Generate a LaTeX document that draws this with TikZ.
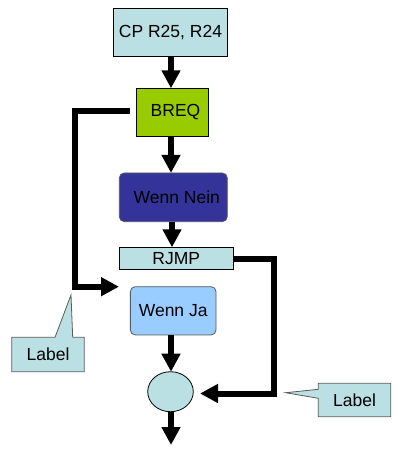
\documentclass[tikz,border=0pt]{standalone}
\usepackage{fontspec}
\setmainfont{Liberation Sans}
\usetikzlibrary{arrows.meta,shapes.geometric}
\definecolor{lcyan}{RGB}{187,224,227}
\definecolor{lgreen}{RGB}{153,204,0}
\definecolor{dblue}{RGB}{51,51,153}
\definecolor{lblue}{RGB}{153,204,255}
\definecolor{edgegray}{RGB}{90,90,90}
\tikzset{
  box/.style={draw=black, line width=0.8pt, inner sep=0pt, font=\fontsize{17.5}{20}\selectfont},
  rbox/.style={box, draw=edgegray, rounded corners=5pt},
  flow/.style={line width=6pt, line cap=butt, line join=miter, -{Triangle[width=18pt,length=18pt]}},
  callout/.style={fill=lcyan, draw=edgegray, line width=0.8pt},
  ctext/.style={font=\fontsize{17.5}{20}\selectfont, inner sep=0pt}
}
\begin{document}
\begin{tikzpicture}[x=1pt,y=-1pt]
\useasboundingbox (0,0) rectangle (409,450);
% nodes
\node[box, fill=lcyan, minimum width=114pt, minimum height=48.4pt] (cp) at (170.5,32.5) {CP R25, R24};
\node[box, fill=lgreen, minimum width=72pt, minimum height=48.4pt] (breq) at (172.5,112.5) {\hspace{6pt}BREQ};
\node[rbox, fill=dblue, minimum width=108pt, minimum height=48.7pt] (nein) at (173.3,197.3) {\hspace{7pt}Wenn Nein};
\node[box, fill=lcyan, minimum width=114pt, minimum height=22pt] (rjmp) at (176.3,258.3) {RJMP\hspace{16pt}};
\node[rbox, fill=lblue, minimum width=85.7pt, minimum height=48.3pt] (ja) at (173.2,310.8) {Wenn Ja};
\node[ellipse, draw=black, line width=0.8pt, fill=lcyan, minimum width=45.6pt, minimum height=40pt, inner sep=0pt] (merge) at (170.5,391.7) {};
\coordinate (outend) at (171,445);
\coordinate (jaentry) at (119,286.7);
\coordinate (leftcorner1) at (74.5,111);
\coordinate (leftcorner2) at (74.5,286.7);
\coordinate (rightcorner1) at (274,259.3);
\coordinate (rightcorner2) at (274,393.5);
\coordinate (mergeentry) at (200,393.5);
% vertical arrows
\draw[flow] (171,56.7) -- (171,88.3);
\draw[flow] (171,136.7) -- (171,172.9);
\draw[flow] (172,221.7) -- (172,247.3);
\draw[flow] (171,335) -- (171,371.7);
\draw[flow] (merge.south -| outend) -- (outend);
% branch connectors
\draw[flow] ([xshift=-6.5pt]breq.west |- leftcorner1) -- (leftcorner1) -- (leftcorner2) -- (jaentry);
\draw[flow] (rjmp.east |- rightcorner1) -- (rightcorner1) -- (rightcorner2) -- (mergeentry);
% callouts
\draw[callout] (11.7,337.3) -- (55,337.3) -- (71,295) -- (72.7,337.3) -- (84.3,337.3) -- (84.3,371.7) -- (11.7,371.7) -- cycle;
\node[ctext] (label1) at (48,354) {Label};
\draw[callout] (318.3,383.3) -- (390.7,383.3) -- (390.7,416.7) -- (318.3,416.7) -- (318.3,398.3) -- (285.7,392.7) -- (318.3,389.3) -- cycle;
\node[ctext] (label2) at (354.5,400) {Label};
\end{tikzpicture}
\end{document}
